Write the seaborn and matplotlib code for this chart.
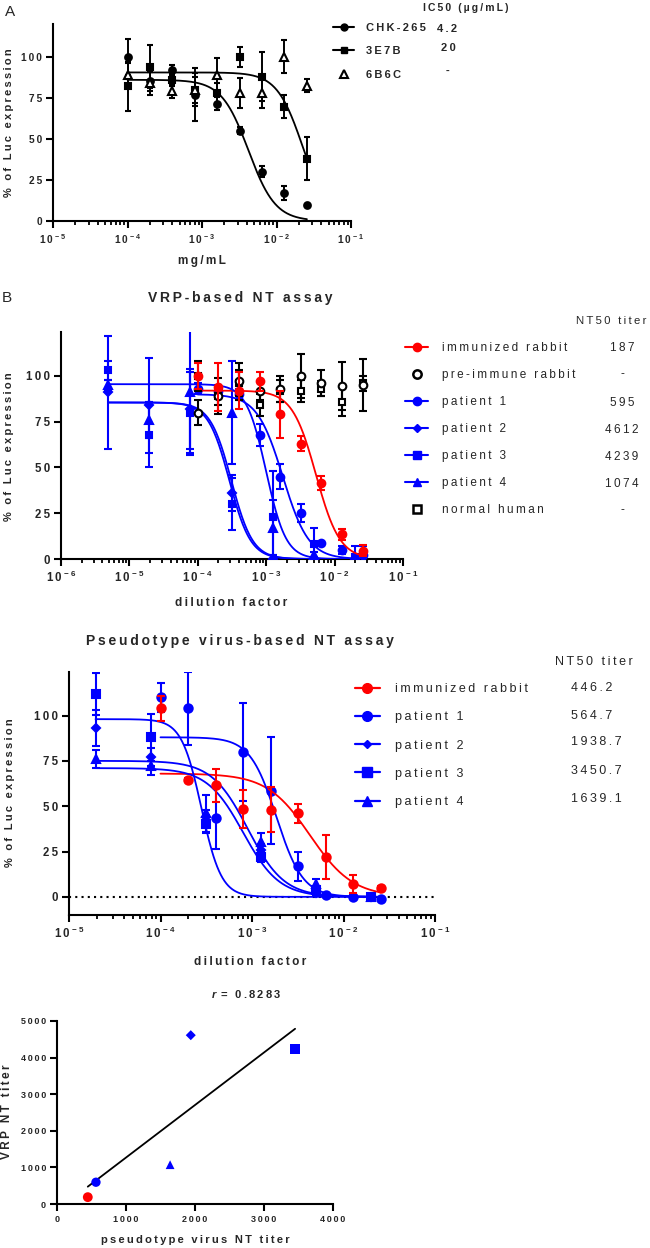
import numpy as np
import pandas as pd
import seaborn as sns
import matplotlib
matplotlib.use("Agg")
import matplotlib.pyplot as plt
from matplotlib.lines import Line2D
from matplotlib.ticker import LogLocator, NullFormatter, FuncFormatter

W, H = 650, 1248
RED, BLUE = "#ff0000", "#0000ff"

# ---------------- panel A: antibody neutralisation (mg/mL)
conc_A = [0.0001, 0.0002, 0.0004, 0.0008, 0.0016, 0.0032, 0.0064, 0.0128, 0.0256]
chk265_y = [100, 85, 92, 77, 71.5, 55, 30, 17, 10]
chk265_err = [11, 6, 3, 16, 4, 2, 3.5, 4.5, 0]
e3e7b_y = [82, 94, 86, 80, 78, 100, 88, 69.5, 38]
e3e7b_err = [15, 13, 4, 8, 6, 6, 15, 7, 13]
b6c_y = [89, 84, 79, 80, 89, 78, 78, 100, 82.5]
b6c_err = [7, 7, 4, 10, 10, 9, 9, 10, 4]
ic50_labels = ["4.2", "20", "-"]
# 4PL fit (top, IC50, hill) for the two neutralising antibodies
fitA_top = [86, 90.5]
fitA_ic50 = [0.0042, 0.0225]
fitA_hill = [2.4, 2.5]

# ---------------- panel B: VRP-based NT assay
dil_2fold = [0.0001, 0.0002, 0.0004, 0.0008, 0.0016, 0.0032, 0.0064, 0.0128, 0.0256]
dil_4fold = [4.88e-6, 1.95e-5, 7.81e-5, 3.13e-4, 1.25e-3, 5e-3, 2e-2]
vrp_rabbit = [100, 94, 92, 97, 79, 63, 41.5, 13.5, 4.5]
vrp_rabbit_err = [7, 13, 10, 5, 13, 4, 4, 3, 3]
vrp_preimmune = [80, 89, 97, 92, 93, 100, 96, 94.5, 95]
vrp_preimmune_err = [7, 5, 10, 5, 7, 12, 7, 13, 14]
vrp_normal = [100, 89, 96, 84, 92, 92, 93, 86, 96]
vrp_normal_err = [8, 10, 7, 6, 6, 6, 4, 8, 4]
vrp_p1 = [93, 92, 90, 68, 45, 25, 8.5, 5, 2]
vrp_p1_err = [3, 3, 3, 6, 7, 5, 1, 2, 5]
vrp_p2 = [91, 84, 82, 36, 0, 0, 0]
vrp_p2_err = [31, 26, 22, 10, 2, 1, 1]
vrp_p3 = [103, 68, 80, 30, 23, 8, 1]
vrp_p3_err = [5, 18, 22, 14, 25, 9, 1]
vrp_p4 = [95, 76, 91, 80, 17, 2, 1]
vrp_p4_err = [3, 10, 34, 28, 15, 2, 6]
vrp_nt50 = ["187", "-", "595", "4612", "4239", "1074", "-"]
# fits: rabbit, patient 1..4
vrp_fit_top = [92, 90, 85.5, 85.5, 95.5]
vrp_fit_ic50 = [5.35e-3, 1.75e-3, 2.9e-4, 3.1e-4, 1.0e-3]
vrp_fit_hill = [2.5, 2.3, 2.8, 2.8, 3.0]

# ---------------- panel C: pseudotype virus-based NT assay
dil_4fold_p = [1.95e-5, 7.81e-5, 3.13e-4, 1.25e-3, 5e-3, 2e-2]
psv_rabbit = [104, 64.5, 61.5, 48.5, 48, 46, 22, 7, 5]
psv_rabbit_err = [7, 1, 9, 10.5, 12.5, 5, 12, 5, 1]
psv_p1 = [110, 104, 43.5, 80, 58.5, 17, 1, 0, -1]
psv_p1_err = [8, 20, 17, 27, 29.5, 8, 1, 1, 1]
psv_p2 = [93, 77, 44, 26, 2, 0]
psv_p2_err = [10, 5, 4, 3, 1, 0]
psv_p3 = [112, 88, 40, 22, 4, 0]
psv_p3_err = [11.5, 13, 5, 3, 2, 1]
psv_p4 = [76, 72, 46, 30, 7, 0]
psv_p4_err = [5, 5, 10, 5, 3, 1]
psv_nt50 = ["446.2", "564.7", "1938.7", "3450.7", "1639.1"]
psv_fit_top = [68, 88, 71, 98, 75]
psv_fit_ic50 = [4.3e-3, 1.85e-3, 8e-4, 2.8e-4, 9e-4]
psv_fit_hill = [1.85, 3.0, 2.2, 4.0, 2.2]

# ---------------- panel D: correlation of titers
groups = ["immunized rabbit", "patient 1", "patient 2", "patient 3", "patient 4"]
pseudo_titer = [446.2, 564.7, 1938.7, 3450.7, 1639.1]
vrp_titer = [187, 595, 4612, 4239, 1074]

sns.set_theme(style="ticks")
plt.rcParams['font.family'] = ['Liberation Sans', 'DejaVu Sans']
plt.rcParams['font.weight'] = 'bold'
plt.rcParams['mathtext.fontset'] = 'custom'
plt.rcParams['mathtext.rm'] = 'Liberation Sans'
plt.rcParams['mathtext.bf'] = 'Liberation Sans:bold'
plt.rcParams['mathtext.it'] = 'Liberation Sans:italic:bold'

fig = plt.figure(figsize=(W / 100, H / 100), dpi=100)


def sp(s):
    # Prism exports text with wide letter spacing
    return "\u2009".join(s)


def add_ax(l, t, r, b):
    return fig.add_axes([l / W, 1 - b / H, (r - l) / W, (b - t) / H])


def ftext(x, y, s, **kw):
    kw.setdefault('ha', 'center')
    kw.setdefault('va', 'center')
    fig.text(x / W, 1 - y / H, s, **kw)


def hill(x, top, ic50, h):
    return top / (1 + (x / ic50) ** h)


def draw_fit(ax, x0, x1, top, ic50, h, color):
    xs = np.logspace(np.log10(x0), np.log10(x1), 300)
    sns.lineplot(x=xs, y=hill(xs, top, ic50, h), ax=ax, color=color, lw=1.3,
                 estimator=None, zorder=4)


def style(ax, fs, logx=True):
    sns.despine(ax=ax)
    for s in ['left', 'bottom']:
        ax.spines[s].set_linewidth(1.5)
        ax.spines[s].set_color('black')
    ax.tick_params(which='major', width=1.5, length=5, labelsize=fs, color='black', pad=3)
    ax.yaxis.set_major_formatter(FuncFormatter(lambda v, p: sp("%d" % v)))
    if logx:
        ax.set_xscale('log')
        ax.xaxis.set_major_locator(LogLocator(base=10, numticks=10))
        ax.xaxis.set_minor_locator(LogLocator(base=10, subs=np.arange(2, 10), numticks=10))
        ax.xaxis.set_minor_formatter(NullFormatter())
        ax.xaxis.set_major_formatter(FuncFormatter(
            lambda v, p: r"$\mathbf{1\,0^{\,-\,%d}}$" % -round(np.log10(v))))
        ax.tick_params(which='minor', width=1.3, length=3, color='black')
    else:
        ax.xaxis.set_major_formatter(FuncFormatter(lambda v, p: sp("%d" % v)))
    ax.set_facecolor('white')


def ebar(ax, x, y, e, marker, color, ms, face=None, z=3, lw=1.5, cap=2.6):
    ax.errorbar(x, y, yerr=e, fmt=marker, color=color, ms=ms, mfc=face if face else color,
                mec=color, mew=1.5, elinewidth=lw, capsize=cap, capthick=lw, zorder=z, clip_on=True)


# ======== Panel A
axA = add_ax(53, 24, 351, 221)
style(axA, 7.3)
axA.set_xlim(1e-5, 1e-1)
axA.set_ylim(0, 120)
axA.set_yticks([0, 25, 50, 75, 100])
ebar(axA, conc_A, chk265_y, chk265_err, 'o', 'black', 4.8, lw=1.4, cap=2.4)
ebar(axA, conc_A, e3e7b_y, e3e7b_err, 's', 'black', 4.5, lw=1.4, cap=2.4)
ebar(axA, conc_A, b6c_y, b6c_err, '^', 'black', 5.2, face='white', lw=1.4, cap=2.4)
for top, ic, h in zip(fitA_top, fitA_ic50, fitA_hill):
    draw_fit(axA, conc_A[0], conc_A[-1], top, ic, h, 'black')

hA = [Line2D([], [], color='black', marker='o', ms=5, lw=1.5),
      Line2D([], [], color='black', marker='s', ms=5, lw=1.5),
      Line2D([], [], color='black', marker='^', ms=6, mfc='white', mew=1.5, lw=0)]
axA.legend(hA, [sp(t) for t in ["CHK-265", "3E7B", "6B6C"]], loc='upper left',
           bbox_to_anchor=(333 / W, 1 - 23 / H),
           bbox_transform=fig.transFigure, frameon=False, borderpad=0, borderaxespad=0,
           handlelength=1.9, handletextpad=1.1, labelspacing=1.2, prop={'size': 8, 'weight': 'bold'})
ftext(466, 8, sp("IC50 (\u00b5g/mL)"), fontsize=7.5)
for lab, yy, xx in zip(ic50_labels, [29, 48, 71], [447, 448, 448]):
    ftext(xx, yy, sp(lab), fontsize=8)
ftext(10, 12, "A", fontsize=11, fontweight='normal')
ftext(9, 123, sp("% of Luc expression"), rotation=90, fontsize=8)
ftext(202, 261, sp("mg/mL"), fontsize=8.5)

# ======== Panel B (VRP)
axB = add_ax(61, 332, 403, 559)
style(axB, 8.3)
axB.set_xlim(1e-6, 1e-1)
axB.set_ylim(0, 124)
axB.set_yticks([0, 25, 50, 75, 100])
ebar(axB, dil_4fold, vrp_p2, vrp_p2_err, 'D', BLUE, 3.8)
ebar(axB, dil_4fold, vrp_p3, vrp_p3_err, 's', BLUE, 5)
ebar(axB, dil_4fold, vrp_p4, vrp_p4_err, '^', BLUE, 5.5)
ebar(axB, dil_2fold, vrp_p1, vrp_p1_err, 'o', BLUE, 5.5)
ebar(axB, dil_2fold, vrp_normal, vrp_normal_err, 's', 'black', 5, face='white', z=5)
ebar(axB, dil_2fold, vrp_preimmune, vrp_preimmune_err, 'o', 'black', 5.5, face='white', z=5)
ebar(axB, dil_2fold, vrp_rabbit, vrp_rabbit_err, 'o', RED, 5.5, z=6)
vrp_ranges = [(dil_2fold[0], dil_2fold[-1]), (dil_2fold[0], dil_2fold[-1]),
              (dil_4fold[0], dil_4fold[-1]), (dil_4fold[0], dil_4fold[-1]), (dil_4fold[0], dil_4fold[-1])]
for (x0, x1), top, ic, h, c in zip(vrp_ranges, vrp_fit_top, vrp_fit_ic50, vrp_fit_hill,
                                    [RED, BLUE, BLUE, BLUE, BLUE]):
    draw_fit(axB, x0, x1, top, ic, h, c)

hB = [Line2D([], [], color=RED, marker='o', ms=6, lw=1.5),
      Line2D([], [], color='black', marker='o', ms=6, mfc='white', mew=1.8, lw=0),
      Line2D([], [], color=BLUE, marker='o', ms=6, lw=1.5),
      Line2D([], [], color=BLUE, marker='D', ms=4, lw=1.5),
      Line2D([], [], color=BLUE, marker='s', ms=6, lw=1.5),
      Line2D([], [], color=BLUE, marker='^', ms=6, lw=1.5),
      Line2D([], [], color='black', marker='s', ms=6, mfc='white', mew=1.8, lw=0)]
labB = ["immunized rabbit", "pre-immune rabbit", "patient 1", "patient 2", "patient 3",
        "patient 4", "normal human"]
axB.legend(hB, [sp(t) for t in labB], loc='upper left', bbox_to_anchor=(405 / W, 1 - 342 / H),
           bbox_transform=fig.transFigure, frameon=False, borderpad=0, borderaxespad=0,
           handlelength=1.95, handletextpad=1.2, labelspacing=1.27, prop={'size': 8.5, 'weight': 'normal'})
ftext(646, 321, sp("NT50 titer"), fontsize=8.2, fontweight='normal', ha='right')
for lab, yy in zip(vrp_nt50, [348, 374, 403, 430, 457, 484, 510]):
    ftext(622, yy, sp(lab), fontsize=8.5, fontweight='normal')
ftext(240, 298, sp("VRP-based NT assay"), fontsize=10)
ftext(7, 298, "B", fontsize=11, fontweight='normal')
ftext(9, 447, sp("% of Luc expression"), rotation=90, fontsize=8)
ftext(231, 603, sp("dilution factor"), fontsize=8.5)

# ======== Panel C (pseudotype)
axC = add_ax(69, 672, 435, 915)
style(axC, 8.3)
axC.set_xlim(1e-5, 1e-1)
axC.set_ylim(-10, 124)
axC.set_yticks([0, 25, 50, 75, 100])
axC.axhline(0, color='black', lw=1.5, ls=(0, (1, 2)), zorder=1)
ebar(axC, dil_4fold_p, psv_p2, psv_p2_err, 'D', BLUE, 3.8)
ebar(axC, dil_4fold_p, psv_p3, psv_p3_err, 's', BLUE, 5.5)
ebar(axC, dil_4fold_p, psv_p4, psv_p4_err, '^', BLUE, 5.5)
ebar(axC, dil_2fold, psv_p1, psv_p1_err, 'o', BLUE, 6)
ebar(axC, dil_2fold, psv_rabbit, psv_rabbit_err, 'o', RED, 6, z=5)
psv_ranges = [(dil_2fold[0], dil_2fold[-1]), (dil_2fold[0], dil_2fold[-1]),
              (dil_4fold_p[0], dil_4fold_p[-1]), (dil_4fold_p[0], dil_4fold_p[-1]),
              (dil_4fold_p[0], dil_4fold_p[-1])]
for (x0, x1), top, ic, h, c in zip(psv_ranges, psv_fit_top, psv_fit_ic50, psv_fit_hill,
                                    [RED, BLUE, BLUE, BLUE, BLUE]):
    draw_fit(axC, x0, x1, top, ic, h, c)

hC = [Line2D([], [], color=RED, marker='o', ms=7, lw=1.6),
      Line2D([], [], color=BLUE, marker='o', ms=7, lw=1.6),
      Line2D([], [], color=BLUE, marker='D', ms=4.5, lw=1.6),
      Line2D([], [], color=BLUE, marker='s', ms=7, lw=1.6),
      Line2D([], [], color=BLUE, marker='^', ms=7, lw=1.6)]
labC = ["immunized rabbit", "patient 1", "patient 2", "patient 3", "patient 4"]
axC.legend(hC, [sp(t) for t in labC], loc='upper left', bbox_to_anchor=(355 / W, 1 - 683 / H),
           bbox_transform=fig.transFigure, frameon=False, borderpad=0, borderaxespad=0,
           handlelength=2.0, handletextpad=1.2, labelspacing=1.3, prop={'size': 9, 'weight': 'normal'})
ftext(594, 662, sp("NT50 titer"), fontsize=9, fontweight='normal')
for lab, yy in zip(psv_nt50, [688, 716, 742, 771, 799]):
    ftext(571, yy, sp(lab), fontsize=9, fontweight='normal', ha='left')
ftext(240, 641, sp("Pseudotype virus-based NT assay"), fontsize=10)
ftext(10, 793, sp("% of Luc expression"), rotation=90, fontsize=8)
ftext(250, 962, sp("dilution factor"), fontsize=8.5)

# ======== Panel D (correlation)
axD = add_ax(57, 1021, 333, 1204)
style(axD, 6.5, logx=False)
axD.set_xlim(0, 4000)
axD.set_ylim(0, 5000)
axD.set_xticks([0, 1000, 2000, 3000, 4000])
axD.set_yticks([0, 1000, 2000, 3000, 4000, 5000])
dfD = pd.DataFrame({"group": groups, "pseudo": pseudo_titer, "vrp": vrp_titer})
sns.regplot(data=dfD, x="pseudo", y="vrp", scatter=False, ci=None, color='black',
            line_kws={'lw': 1.3}, ax=axD, truncate=True)
sns.scatterplot(data=dfD, x="pseudo", y="vrp", hue="group", style="group", size="group",
                palette=[RED, BLUE, BLUE, BLUE, BLUE],
                markers=['o', 'o', 'D', 's', '^'],
                sizes=[50, 45, 26, 45, 40], linewidth=0, legend=False, ax=axD, zorder=5)
axD.set_xlabel("")
axD.set_ylabel("")
ftext(246, 994, r"$\mathit{r}$" + sp(" = 0.8283"), fontsize=8)
ftext(7, 1112, sp("VRP NT titer"), rotation=90, fontsize=8.5)
ftext(195, 1240, sp("pseudotype virus NT titer"), fontsize=8)

fig.savefig("out.png", dpi=100, facecolor='white')
